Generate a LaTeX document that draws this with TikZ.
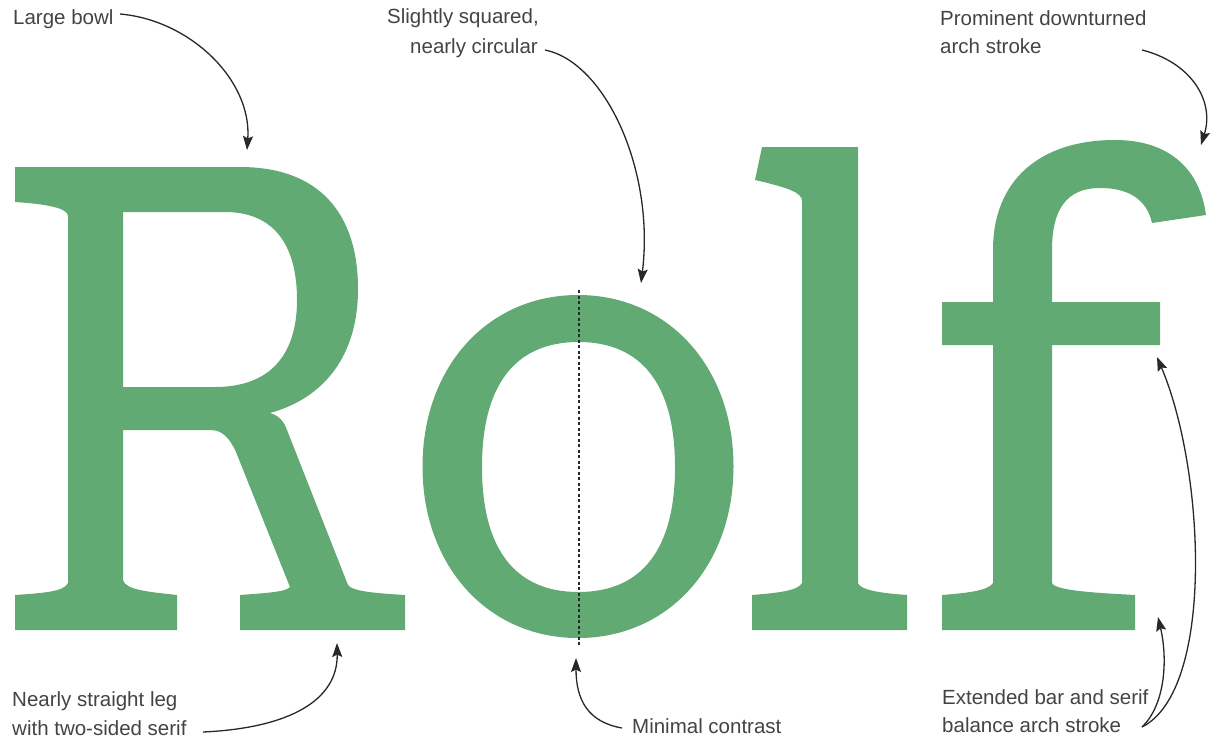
\documentclass[tikz,border=0pt]{standalone}
\usepackage{fontspec}
\setmainfont{Liberation Sans}
\usetikzlibrary{arrows.meta}
\definecolor{glyph}{RGB}{98,170,115}
\definecolor{ink}{RGB}{40,40,40}
\definecolor{txt}{RGB}{68,68,68}
\begin{document}
\begin{tikzpicture}[x=1pt,y=-1pt,
  lbl/.style={anchor=base west, inner sep=0pt, text=txt, font=\fontsize{20.5}{24}\selectfont},
  callout/.style={draw=ink, line width=1.3pt, -{Stealth[length=14pt,width=10pt,inset=2.5pt]}},
  glyphfill/.style={fill=glyph, draw=none, even odd rule},
  axis/.style={draw=ink, line width=1.1pt, dash pattern=on 3pt off 2.5pt}]
\useasboundingbox[fill=white] (0,0) rectangle (1225,748);

% ---------- R ----------
\path[glyphfill]
  (15,167) -- (240,167)
  .. controls (318,167) and (358,212) .. (358,289)
  .. controls (358,356) and (324,398) .. (270,413)
  .. controls (280,416) and (284,422) .. (287,430)
  -- (348,585)
  .. controls (352,591) and (372,593) .. (405,595)
  -- (405,630) -- (240,630) -- (240,595)
  .. controls (266,593) and (286,592) .. (290,587)
  -- (236,452)
  .. controls (229,437) and (222,430) .. (210,430)
  -- (123,430) -- (123,580)
  .. controls (125,590) and (150,592) .. (177,595)
  -- (177,630) -- (15,630) -- (15,595)
  .. controls (42,593) and (64,592) .. (68,583)
  -- (68,216)
  .. controls (68,208) and (46,204) .. (15,202) -- cycle
  (123,212) -- (225,212)
  .. controls (274,212) and (297,245) .. (297,300)
  .. controls (297,355) and (270,387) .. (215,387)
  -- (123,387) -- cycle;

% ---------- o ----------
\path[glyphfill]
  (733.5,466.5) .. controls (733.5,367) and (668.2,295) .. (578,295)
  .. controls (487.8,295) and (422.5,367) .. (422.5,466.5)
  .. controls (422.5,566) and (487.8,638) .. (578,638)
  .. controls (668.2,638) and (733.5,566) .. (733.5,466.5) -- cycle
  (675,467) .. controls (675,385) and (642,342) .. (578.5,342)
  .. controls (515,342) and (482,385) .. (482,467)
  .. controls (482,549) and (515,592) .. (578.5,592)
  .. controls (642,592) and (675,549) .. (675,467) -- cycle;

% ---------- l ----------
\path[glyphfill]
  (762,147) -- (858,147) -- (858,583)
  .. controls (860,590) and (880,593) .. (907,595)
  -- (907,630) -- (752,630) -- (752,595)
  .. controls (776,593) and (798,591) .. (802,583)
  -- (802,201)
  .. controls (802,193) and (790,188) .. (755,180) -- cycle;

% ---------- f ----------
\path[glyphfill]
  (942,630) -- (942,595)
  .. controls (966,593) and (988,591) .. (993,583)
  -- (993,345) -- (942,345) -- (942,302) -- (993,302) -- (993,250)
  .. controls (993,180) and (1040,140) .. (1115,140)
  .. controls (1170,140) and (1200,170) .. (1206,215)
  -- (1152,223)
  .. controls (1148,205) and (1135,188) .. (1100,188)
  .. controls (1066,188) and (1052,210) .. (1052,250)
  -- (1052,302) -- (1160,302) -- (1160,345) -- (1052,345) -- (1052,583)
  .. controls (1055,591) and (1100,593) .. (1135,595)
  -- (1135,630) -- cycle;

% ---------- axis of o ----------
\coordinate (axtop) at (579,290);
\coordinate (axbot) at (579,645);
\draw[axis] (axtop) -- (axbot);

% ---------- labels ----------
\node[lbl] (bowl) at (13,24) {Large bowl};
\node[lbl] (sq1) at (387,23) {Slightly squared,};
\node[lbl] (sq2) at (410,53) {nearly circular};
\node[lbl] (pr1) at (940,25) {Prominent downturned};
\node[lbl] (pr2) at (940,53) {arch stroke};
\node[lbl] (leg1) at (12,706) {Nearly straight leg};
\node[lbl] (leg2) at (12,735) {with two-sided serif};
\node[lbl] (con) at (632,733) {Minimal contrast};
\node[lbl] (ext1) at (942,704) {Extended bar and serif};
\node[lbl] (ext2) at (942,732) {balance arch stroke};

% ---------- callout ends ----------
\coordinate (bowlS) at (120,14);   \coordinate (bowlT) at (247,150);
\coordinate (sqS) at (545,50);     \coordinate (sqT) at (641,283);
\coordinate (prS) at (1142,50);    \coordinate (prT) at (1201,145);
\coordinate (legS) at (203,732);   \coordinate (legT) at (337,643);
\coordinate (conS) at (622,728);   \coordinate (conT) at (576,658);
\coordinate (extS) at (1142,727);
\coordinate (serT) at (1158,617);  \coordinate (barT) at (1157,357);

\draw[callout] (bowlS) .. controls (190,20) and (252,80) .. (bowlT);
\draw[callout] (sqS) .. controls (605,62) and (655,170) .. (sqT);
\draw[callout] (prS) .. controls (1190,62) and (1215,100) .. (prT);
\draw[callout] (legS) .. controls (290,728) and (338,700) .. (legT);
\draw[callout] (conS) .. controls (588,722) and (576,700) .. (conT);
\draw[callout] (extS) .. controls (1165,705) and (1168,660) .. (serT);
\draw[callout] (extS) .. controls (1215,690) and (1205,470) .. (barT);
\end{tikzpicture}
\end{document}
